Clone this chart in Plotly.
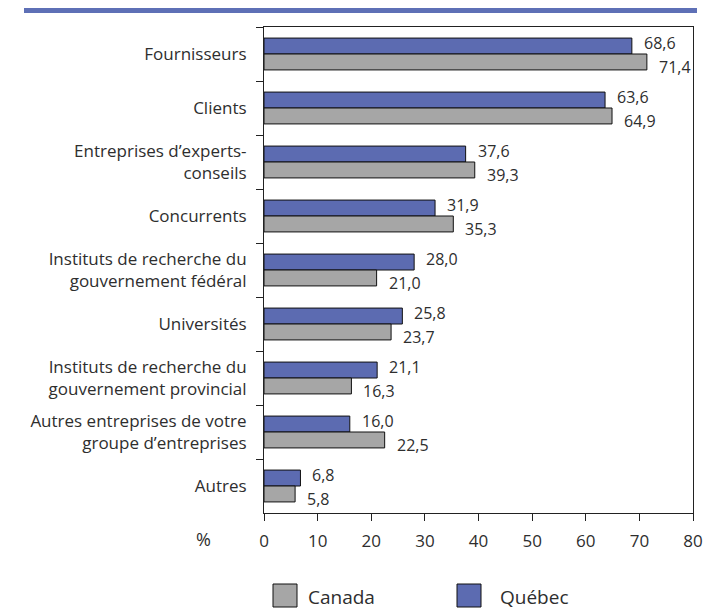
import plotly.graph_objects as go

# Sources of information used for innovation (% of firms)
categories = [
    "Fournisseurs",
    "Clients",
    "Entreprises d\u2019experts-<br>conseils",
    "Concurrents",
    "Instituts de recherche du<br>gouvernement f\u00e9d\u00e9ral",
    "Universit\u00e9s",
    "Instituts de recherche du<br>gouvernement provincial",
    "Autres entreprises de votre<br>groupe d\u2019entreprises",
    "Autres",
]
quebec = [68.6, 63.6, 37.6, 31.9, 28.0, 25.8, 21.1, 16.0, 6.8]
canada = [71.4, 64.9, 39.3, 35.3, 21.0, 23.7, 16.3, 22.5, 5.8]
series_names = ["Canada", "Qu\u00e9bec"]
x_ticks = [0, 10, 20, 30, 40, 50, 60, 70, 80]

BLUE = "#5C6BB1"
GRAY = "#A6A6A6"
TEXT = "#2E2E2E"
FONT = "Open Sans"

W, H = 704, 612
L, R, T, B = 264, 11, 27, 99
PW, PH = W - L - R, H - T - B


def px_x(px):
    return (px - L) / PW


def px_y(py):
    return (H - B - py) / PH


def fmt(v):
    return f"{v:.1f}".replace(".", ",")


fig = go.Figure()
fig.add_trace(go.Bar(
    y=categories, x=quebec, orientation="h", name=series_names[1],
    marker=dict(color=BLUE, line=dict(color="#111111", width=1)),
    showlegend=False,
))
fig.add_trace(go.Bar(
    y=categories, x=canada, orientation="h", name=series_names[0],
    marker=dict(color=GRAY, line=dict(color="#111111", width=1)),
    showlegend=False,
))

annotations = []
for cat, q, c in zip(categories, quebec, canada):
    annotations.append(dict(x=q, y=cat, text=fmt(q), xanchor="left", yanchor="middle",
                            xshift=10, yshift=11, showarrow=False,
                            font=dict(family=FONT, size=16, color=TEXT)))
    annotations.append(dict(x=c, y=cat, text=fmt(c), xanchor="left", yanchor="middle",
                            xshift=10, yshift=-13, showarrow=False,
                            font=dict(family=FONT, size=16, color=TEXT)))

annotations.append(dict(x=px_x(203), y=px_y(539), xref="paper", yref="paper",
                        text="%", showarrow=False, xanchor="center", yanchor="middle",
                        font=dict(family=FONT, size=18, color=TEXT)))

shapes = [
    # header rule
    dict(type="rect", xref="paper", yref="paper",
         x0=px_x(24), x1=px_x(697), y0=px_y(13), y1=px_y(8),
         fillcolor="#5E70B6", line=dict(width=0), layer="above"),
]

# legend swatches
legend_items = [(series_names[0], GRAY, 273, 306), (series_names[1], BLUE, 457, 498)]
for name, color, bx, tx in legend_items:
    shapes.append(dict(type="rect", xref="paper", yref="paper",
                       x0=px_x(bx), x1=px_x(bx + 24), y0=px_y(607), y1=px_y(584),
                       fillcolor=color, line=dict(color="#111111", width=1)))
    annotations.append(dict(x=px_x(tx), y=px_y(597), xref="paper", yref="paper",
                            text=name, showarrow=False, xanchor="left", yanchor="middle",
                            font=dict(family=FONT, size=19, color=TEXT)))

fig.update_layout(
    width=W, height=H,
    margin=dict(l=L, r=R, t=T, b=B, pad=0, autoexpand=False),
    paper_bgcolor="white", plot_bgcolor="white",
    barmode="group", bargap=0.41, bargroupgap=0,
    font=dict(family=FONT, color=TEXT),
    annotations=annotations, shapes=shapes,
    xaxis=dict(range=[0, 80], tickvals=x_ticks, ticktext=[str(v) for v in x_ticks],
               automargin=False,
               showgrid=False, zeroline=False, showline=True, linecolor="#222222",
               linewidth=1, mirror=True, ticks="outside", ticklen=7, tickcolor="#222222",
               ticklabeloverflow="allow", ticklabelstandoff=6,
               tickfont=dict(family=FONT, size=17, color=TEXT)),
    yaxis=dict(autorange="reversed", automargin=False,
               showgrid=False, showline=True, linecolor="#222222",
               linewidth=1, mirror=True, ticks="outside", ticklen=7, tickcolor="#222222",
               tickson="boundaries", ticklabelstandoff=13,
               tickfont=dict(family=FONT, size=17, color=TEXT)),
)

fig.write_html("out.html")
